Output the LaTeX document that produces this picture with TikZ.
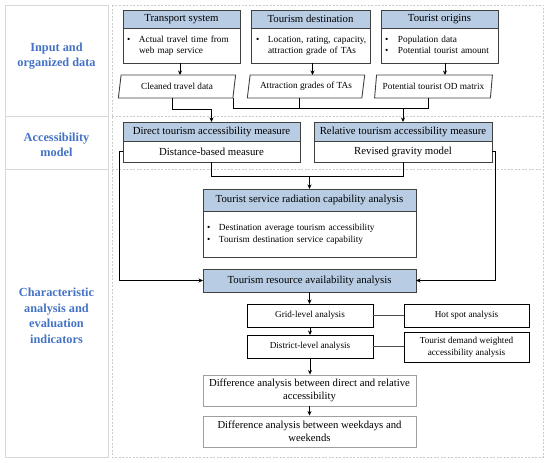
\documentclass[tikz,border=0pt]{standalone}
\usepackage{fontspec}
\setmainfont{Liberation Serif}
\usetikzlibrary{shapes.geometric,arrows.meta}
\definecolor{hdr}{RGB}{184,204,228}
\definecolor{lblue}{RGB}{68,114,196}
\definecolor{bord}{RGB}{64,64,64}
\definecolor{gridc}{RGB}{215,215,215}
\newcommand\fsz[2]{\fontsize{#1}{#2}\selectfont}
\tikzset{
  box/.style={draw=bord, line width=0.9pt, inner sep=0pt, outer sep=0pt, fill=white},
  hbox/.style={box, fill=hdr, font=\fsz{10.8}{13}},
  bbox/.style={box, align=left, inner xsep=0pt},
  para/.style={trapezium, trapezium left angle=75, trapezium right angle=105,
    trapezium stretches=true, draw=bord, line width=0.9pt, inner sep=0pt,
    minimum width=118, minimum height=23, font=\fsz{9.3}{11}},
  smallbox/.style={box, draw=black, align=center, font=\fsz{9.2}{12}},
  diffbox/.style={draw=gray!75, line width=0.9pt, inner sep=0pt, align=center,
    font=\fsz{10.7}{13}, minimum width=213, minimum height=31},
  lab/.style={align=center, text=lblue, font=\fsz{12.3}{15.5}\bfseries},
  arr/.style={-{Stealth[length=4.5pt,width=4pt]}, line width=0.8pt},
  ln/.style={line width=0.8pt},
  link/.style={line width=1.5pt, draw=gray!60!black},
  col/.style={draw=gridc, line width=0.9pt},
  dsh/.style={draw=gray!40, line width=0.8pt, dash pattern=on 2pt off 1.5pt}
}
\begin{document}
\begin{tikzpicture}[x=1pt,y=-1pt]
\useasboundingbox (0,0) rectangle (550,463);
% frames
\draw[col] (5,5) rectangle (108,457);
\draw[col] (5,116) -- (108,116);
\draw[col] (5,169) -- (108,169);
\draw[dsh] (112,5) rectangle (543,457);
\draw[dsh] (112,116) -- (543,116);
\draw[dsh] (112,169) -- (543,169);
% left labels
\node[lab] (l1) at (56.5,56) {Input and\\organized data};
\node[lab] (l2) at (56.5,145) {Accessibility\\model};
\node[lab] (l3) at (56.5,316) {Characteristic\\analysis and\\evaluation\\indicators};
% top boxes
\node[hbox, minimum width=117, minimum height=18] (ts) at (181.5,19) {Transport system};
\node[bbox, text width=117, minimum height=35, anchor=north, font=\fsz{9.3}{11}] (tsb) at (ts.south)
  {\begin{tabular}{@{\hspace{4pt}}p{12pt}@{}l@{}}\textbullet & Actual travel time from\\ & web map service\end{tabular}};
\node[hbox, minimum width=119, minimum height=18] (td) at (310.5,19) {Tourism destination};
\node[bbox, text width=119, minimum height=35, anchor=north, font=\fsz{9.3}{11}] (tdb) at (td.south)
  {\begin{tabular}{@{\hspace{5pt}}p{12pt}@{}l@{}}\textbullet & Location, rating, capacity,\\ & attraction grade of TAs\end{tabular}};
\node[hbox, minimum width=117, minimum height=18] (to) at (439.5,19) {Tourist origins};
\node[bbox, text width=117, minimum height=35, anchor=north, font=\fsz{9.3}{11}] (tob) at (to.south)
  {\begin{tabular}{@{\hspace{4pt}}p{13pt}@{}l@{}}\textbullet & Population data\\ \textbullet & Potential tourist amount\end{tabular}};
% parallelograms
\node[para] (cl) at (177,86.5) {Cleaned travel data};
\node[para] (at) at (306,86.5) {Attraction grades of TAs};
\node[para] (od) at (433.5,86.5) {Potential tourist OD matrix};
\draw[arr] ([xshift=-1.5pt]tsb.south) -- ++(0,12);
\draw[arr] ([xshift=2pt]tdb.south) -- ++(0,12);
\draw[arr] ([xshift=5.5pt]tob.south) -- ++(0,12);
% accessibility model
\node[hbox, minimum width=177, minimum height=19] (dir) at (211.5,131.5) {Direct tourism accessibility measure};
\node[box, minimum width=177, minimum height=21, anchor=north, font=\fsz{10.8}{13}] (dirb) at (dir.south) {Distance-based measure};
\node[hbox, minimum width=178, minimum height=19] (rel) at (403,131.5) {Relative tourism accessibility measure};
\node[box, minimum width=178, minimum height=21, anchor=north, font=\fsz{10.8}{13}] (relb) at (rel.south) {Revised gravity model};
\coordinate (j1) at (403,108);
\draw[arr] ([xshift=-5pt]cl.south) -- ++(0,11) -| (dir.north);
\draw[ln] (cl.bottom right corner) |- (j1);
\draw[ln] ([xshift=-7pt]at.south) |- (j1);
\draw[ln] ([xshift=-5.5pt]od.south) |- (j1);
\draw[arr] (j1) -- (rel.north);
% service radiation
\node[hbox, minimum width=213, minimum height=22] (svc) at (309.5,200) {Tourist service radiation capability analysis};
\node[bbox, text width=213, minimum height=46, anchor=north, font=\fsz{9.3}{12}] (svcb) at (svc.south)
  {\begin{tabular}{@{\hspace{4pt}}p{12pt}@{}l@{}}\textbullet & Destination average tourism accessibility\\ \textbullet & Tourism destination service capability\end{tabular}};
\coordinate (j2) at (309.5,176);
\draw[ln] (dirb.south) |- (j2);
\draw[ln] (relb.south) |- (j2);
\draw[arr] (j2) -- (svc.north);
% resource availability
\node[hbox, minimum width=213, minimum height=23] (res) at (309.5,280.5) {Tourism resource availability analysis};
\draw[arr] (dirb.west) -- ++(-4,0) |- (res.west);
\draw[arr] (relb.east) -- ++(3,0) |- (res.east);
% grid / district
\node[smallbox, minimum width=126, minimum height=23] (grid) at (310,315.5) {Grid-level analysis};
\node[smallbox, minimum width=125, minimum height=23] (hot) at (466.5,315.5) {Hot spot analysis};
\node[smallbox, minimum width=126, minimum height=23] (dist) at (310,346.5) {District-level analysis};
\node[smallbox, minimum width=125, minimum height=30] (tdw) at (466.5,347) {Tourist demand weighted\\accessibility analysis};
\draw[arr] (res.south) -- (res.south |- grid.north);
\draw[arr] (grid.south) -- (dist.north);
\draw[link] (grid.east) -- (hot.west);
\draw[link] (dist.east) -- (dist.east -| tdw.west);
% difference analyses
\node[diffbox] (d1) at (309.5,390.5) {Difference analysis between direct and relative\\accessibility};
\node[diffbox] (d2) at (309.5,431.5) {Difference analysis between weekdays and\\weekends};
\draw[arr] (dist.south) -- (dist.south |- d1.north);
\draw[arr] (d1.south) -- (d1.south |- d2.north);
\end{tikzpicture}
\end{document}
